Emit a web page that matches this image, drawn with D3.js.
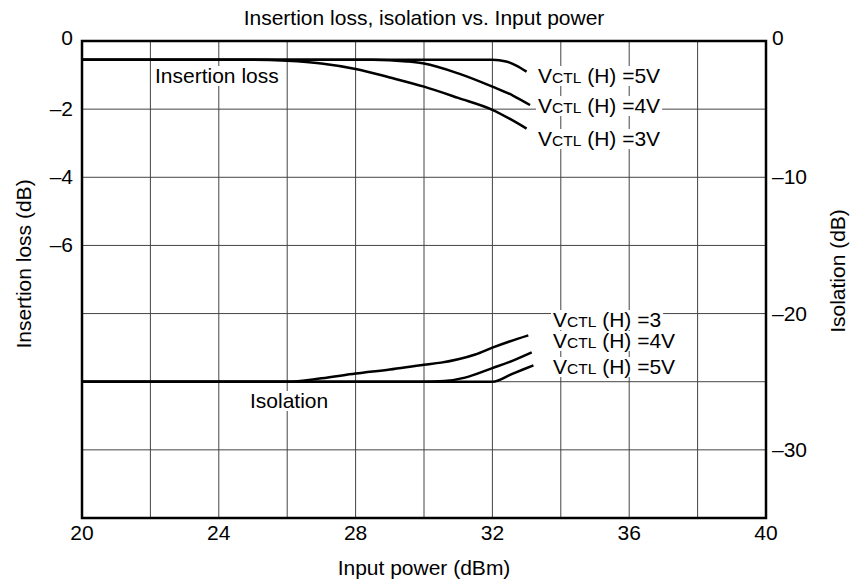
<!DOCTYPE html>
<html>
<head>
<meta charset="utf-8">
<script src="https://cdn.jsdelivr.net/npm/d3@7"></script>
<style>
  body { margin: 0; background: #fff; }
  text { font-family: "Liberation Sans", Arial, sans-serif; fill: #000; }
</style>
</head>
<body>
<div id="chart"></div>
<script>
// data
const xTicks = [20, 24, 28, 32, 36, 40];
const leftTicks = [0, -2, -4, -6];
const rightTicks = [0, -10, -20, -30];

// insertion loss (left axis, dB)
const ilPower5 = [20, 32, 32.4, 32.7, 33.0];
const il5 = [-0.55, -0.55, -0.6, -0.72, -0.9];
const ilPower4 = [20, 28.5, 29.5, 30, 31, 32, 32.6, 33.1];
const il4 = [-0.55, -0.55, -0.6, -0.66, -0.95, -1.34, -1.6, -1.88];
const ilPower3 = [20, 25, 26, 27, 28, 29, 30, 31, 32, 32.5, 33.0];
const il3 = [-0.55, -0.55, -0.58, -0.66, -0.82, -1.07, -1.34, -1.67, -2.02, -2.28, -2.57];

// isolation (right axis, dB)
const isoPower3 = [20, 26, 27, 28, 29, 30, 30.5, 31, 31.5, 32, 32.5, 33.05];
const iso3 = [-25, -25, -24.75, -24.4, -24.1, -23.75, -23.6, -23.35, -23.0, -22.5, -22.05, -21.6];
const isoPower4 = [20, 30, 30.6, 31.2, 32, 32.6, 33.15];
const iso4 = [-25, -25, -24.95, -24.7, -24.0, -23.45, -22.85];
const isoPower5 = [20, 32, 32.6, 33.2];
const iso5 = [-25, -25, -24.4, -23.8];

const ilLabels = ["5V", "4V", "3V"];
const isoLabels = ["3", "4V", "5V"];

const width = 854, height = 584;
const plot = {left: 82, right: 766, top: 41, bottom: 518};

const svg = d3.select("#chart")
    .append("svg")
    .attr("width", width)
    .attr("height", height);

const x = d3.scaleLinear().domain([20, 40]).range([plot.left, plot.right]);
const yL = d3.scaleLinear().domain([0, -14]).range([plot.top, plot.bottom]);
const yR = d3.scaleLinear().domain([0, -35]).range([plot.top, plot.bottom]);

// grid
svg.append("g")
    .selectAll("line")
    .data(d3.range(22, 40, 2))
    .enter()
    .append("line")
    .attr("x1", d => x(d)).attr("x2", d => x(d))
    .attr("y1", plot.top).attr("y2", plot.bottom)
    .attr("stroke", "#444").attr("stroke-width", 1);

svg.append("g")
    .selectAll("line")
    .data(d3.range(-2, -14, -2))
    .enter()
    .append("line")
    .attr("x1", plot.left).attr("x2", plot.right)
    .attr("y1", d => yL(d)).attr("y2", d => yL(d))
    .attr("stroke", "#444").attr("stroke-width", 1);

// white boxes behind in-plot labels go here
const boxes = svg.append("g");

svg.append("rect")
    .attr("x", plot.left).attr("y", plot.top)
    .attr("width", plot.right - plot.left)
    .attr("height", plot.bottom - plot.top)
    .attr("fill", "none")
    .attr("stroke", "#000")
    .attr("stroke-width", 2.5);

// curves
const curve = d3.curveMonotoneX;
const lineL = d3.line().x(d => x(d[0])).y(d => yL(d[1])).curve(curve);
const lineR = d3.line().x(d => x(d[0])).y(d => yR(d[1])).curve(curve);

[[ilPower5, il5], [ilPower4, il4], [ilPower3, il3]].forEach(function(s) {
    svg.append("path")
        .datum(d3.zip(s[0], s[1]))
        .attr("d", lineL)
        .attr("fill", "none")
        .attr("stroke", "#000")
        .attr("stroke-width", 2.5);
});

[[isoPower3, iso3], [isoPower4, iso4], [isoPower5, iso5]].forEach(function(s) {
    svg.append("path")
        .datum(d3.zip(s[0], s[1]))
        .attr("d", lineR)
        .attr("fill", "none")
        .attr("stroke", "#000")
        .attr("stroke-width", 2.5);
});

// tick labels
const fs = "21px";
svg.append("g")
    .selectAll("text")
    .data(xTicks)
    .enter()
    .append("text")
    .attr("x", d => x(d))
    .attr("y", 540)
    .attr("text-anchor", "middle")
    .attr("font-size", fs)
    .text(d => d);

svg.append("g")
    .selectAll("text")
    .data(leftTicks)
    .enter()
    .append("text")
    .attr("x", 73)
    .attr("y", d => yL(d) + (d === 0 ? 4 : 7))
    .attr("text-anchor", "end")
    .attr("font-size", fs)
    .text(d => d === 0 ? "0" : "\u2013" + Math.abs(d));

svg.append("g")
    .selectAll("text")
    .data(rightTicks)
    .enter()
    .append("text")
    .attr("x", 772)
    .attr("y", d => yR(d) + (d === 0 ? 4 : 7))
    .attr("font-size", fs)
    .text(d => d === 0 ? "0" : "\u2013" + Math.abs(d));

// titles
svg.append("text")
    .attr("x", (plot.left + plot.right) / 2)
    .attr("y", 25)
    .attr("text-anchor", "middle")
    .attr("font-size", fs)
    .text("Insertion loss, isolation vs. Input power");

svg.append("text")
    .attr("x", (plot.left + plot.right) / 2)
    .attr("y", 575)
    .attr("text-anchor", "middle")
    .attr("font-size", fs)
    .text("Input power (dBm)");

svg.append("text")
    .attr("transform", "translate(31,264) rotate(-90)")
    .attr("text-anchor", "middle")
    .attr("font-size", fs)
    .text("Insertion loss (dB)");

svg.append("text")
    .attr("transform", "translate(845,271) rotate(-90)")
    .attr("text-anchor", "middle")
    .attr("font-size", fs)
    .text("Isolation (dB)");

// in-plot labels with white background
function label(px, py, txt, vctl) {
    const t = svg.append("text")
        .attr("x", px).attr("y", py)
        .attr("font-size", fs);
    if (vctl) {
        t.append("tspan").text("V");
        t.append("tspan").attr("font-size", "15.5px").text("CTL");
        t.append("tspan").text(" (H) =" + txt);
    } else {
        t.text(txt);
    }
    const b = t.node().getBBox();
    boxes.append("rect")
        .attr("x", b.x - 2).attr("y", b.y + 2)
        .attr("width", b.width + 4).attr("height", b.height - 3)
        .attr("fill", "#fff");
}

label(155, 83, "Insertion loss", false);
label(250, 408, "Isolation", false);
const ilY = [83, 113, 146];
ilLabels.forEach((d, i) => label(538, ilY[i], d, true));
const isoY = [327, 348, 374];
isoLabels.forEach((d, i) => label(553, isoY[i], d, true));
</script>
</body>
</html>
